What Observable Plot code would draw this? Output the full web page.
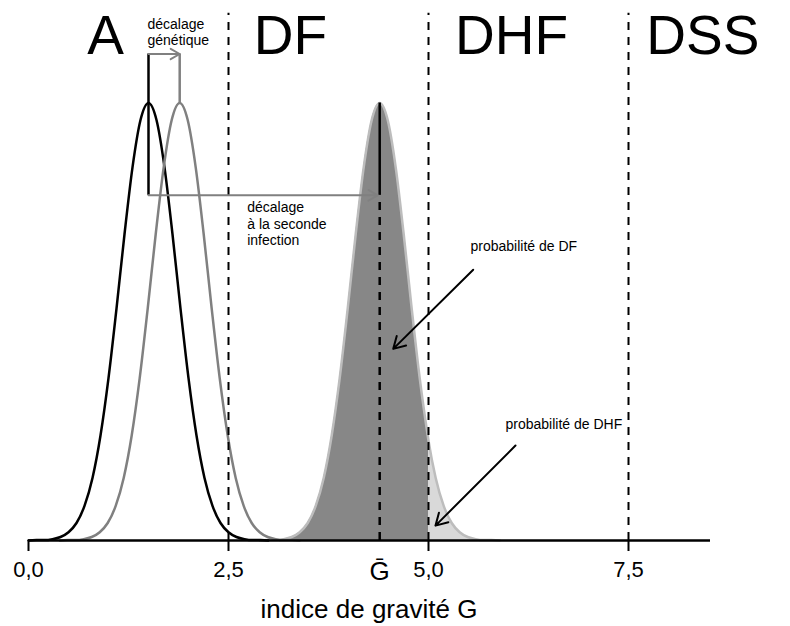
<!DOCTYPE html>
<html>
<head>
<meta charset="utf-8">
<script src="https://cdn.jsdelivr.net/npm/d3@7"></script>
<script src="https://cdn.jsdelivr.net/npm/@observablehq/plot@0.6"></script>
<style>
  body { margin: 0; background: #fff; }
</style>
</head>
<body>
<div id="chart"></div>
<script>
// ---- data (y normalised: peak = 1) ----
const xPrimaire = [0.0,0.1,0.2,0.3,0.4,0.5,0.6,0.7,0.8,0.9,1.0,1.1,1.2,1.3,1.4,1.5,1.6,1.7,1.8,1.9,2.0,2.1,2.2,2.3,2.4,2.5,2.6,2.7,2.8,2.9,3.0];
const yPrimaire = [0,0.001,0.001,0.003,0.008,0.019,0.04,0.079,0.143,0.24,0.371,0.53,0.70,0.853,0.961,1.0,0.961,0.853,0.70,0.53,0.371,0.24,0.143,0.079,0.04,0.019,0.008,0.003,0.001,0.001,0];

const xGenetique = [0.39,0.49,0.59,0.69,0.79,0.89,0.99,1.09,1.19,1.29,1.39,1.49,1.59,1.69,1.79,1.89,1.99,2.09,2.19,2.29,2.39,2.49,2.59,2.69,2.79,2.89,2.99,3.09,3.19,3.29,3.39];
const yGenetique = [0,0.001,0.001,0.003,0.008,0.019,0.04,0.079,0.143,0.24,0.371,0.53,0.70,0.853,0.961,1.0,0.961,0.853,0.70,0.53,0.371,0.24,0.143,0.079,0.04,0.019,0.008,0.003,0.001,0.001,0];

const xSeconde = [2.89,2.99,3.09,3.19,3.29,3.39,3.49,3.59,3.69,3.79,3.89,3.99,4.09,4.19,4.29,4.39,4.49,4.59,4.69,4.79,4.89,4.99,5.0,5.09,5.19,5.29,5.39,5.49,5.59,5.69,5.79,5.89];
const ySeconde = [0,0.001,0.001,0.003,0.008,0.019,0.04,0.079,0.143,0.24,0.371,0.53,0.70,0.853,0.961,1.0,0.961,0.853,0.70,0.53,0.371,0.24,0.228,0.143,0.079,0.04,0.019,0.008,0.003,0.001,0.001,0];

const seuils = [2.5, 5.0, 7.5];
const classes = ["A", "DF", "DHF", "DSS"];
const tickValues = [0, 2.5, 5.0, 7.5];
const moyPrimaire = 1.5;
const moyGenetique = 1.89;
const Gbar = 4.39;

// ---- tables for the library ----
const primaire = xPrimaire.map((x, i) => ({x, y: yPrimaire[i]}));
const genetique = xGenetique.map((x, i) => ({x, y: yGenetique[i]}));
const seconde = xSeconde.map((x, i) => ({x, y: ySeconde[i]}));

// annotation placement (data coordinates)
const classLabelX = [0.9625, 3.275, 6.0375, 8.43];
const yLabels = 1.113;
const yBracket = 1.112;
const yShift = 0.789;

const font = '"Liberation Sans", Arial, Helvetica, sans-serif';
const fmt = d => d.toFixed(1).replace(".", ",");

const plot = Plot.plot({
  width: 790,
  height: 626,
  marginLeft: 28,
  marginRight: 80,
  marginTop: 15,
  marginBottom: 86,
  style: {fontFamily: font, background: "white", color: "black"},
  x: {domain: [0, 8.525], label: null},
  y: {domain: [0, 1.2], axis: null},
  marks: [
    // second infection distribution
    Plot.areaY(seconde, {x: "x", y: "y", fill: "#d9d9d9", curve: "monotone-x"}),
    Plot.areaY(seconde, {filter: d => d.x <= 5.0, x: "x", y: "y", fill: "#878787", curve: "monotone-x"}),
    Plot.lineY(seconde, {x: "x", y: "y", stroke: "#bdbdbd", strokeWidth: 2.5, curve: "monotone-x"}),
    // primary & genetic shift distributions
    Plot.lineY(primaire, {x: "x", y: "y", stroke: "black", strokeWidth: 2.5, curve: "monotone-x"}),
    Plot.lineY(genetique, {x: "x", y: "y", stroke: "#808080", strokeWidth: 2.5, curve: "monotone-x"}),
    // thresholds
    Plot.ruleX(seuils, {y1: 0, y2: 1.205, stroke: "black", strokeWidth: 2, strokeDasharray: "8,7"}),
    // mean of second infection
    Plot.ruleX([Gbar], {y1: 0, y2: yShift, stroke: "black", strokeWidth: 2.5, strokeDasharray: "8,7"}),
    Plot.ruleX([Gbar], {y1: yShift, y2: 1.0, stroke: "black", strokeWidth: 2.5}),
    // bracket lines
    Plot.ruleX([moyPrimaire], {y1: yShift, y2: yBracket, stroke: "black", strokeWidth: 2.5}),
    Plot.ruleX([moyGenetique], {y1: 1.0, y2: yBracket, stroke: "#808080", strokeWidth: 2.5}),
    Plot.arrow([{x1: moyPrimaire, x2: moyGenetique, y: yBracket}],
      {x1: "x1", x2: "x2", y1: "y", y2: "y", stroke: "#808080", strokeWidth: 2, headLength: 8}),
    Plot.arrow([{x1: moyPrimaire, x2: Gbar, y: yShift}],
      {x1: "x1", x2: "x2", y1: "y", y2: "y", stroke: "#808080", strokeWidth: 2, headLength: 8, insetEnd: 2}),
    // probability arrows
    Plot.arrow([{x1: 5.559, y1: 0.619, x2: 4.559, y2: 0.438}, {x1: 6.0875, y1: 0.217, x2: 5.0875, y2: 0.034}],
      {x1: "x1", y1: "y1", x2: "x2", y2: "y2", stroke: "black", strokeWidth: 2, headLength: 10}),
    // baseline axis with ticks
    Plot.ruleY([0], {stroke: "black", strokeWidth: 2.5}),
    Plot.axisX({ticks: tickValues, tickSize: 11, strokeWidth: 2, tickFormat: () => "", label: null}),
    Plot.text(tickValues, {x: d => d, y: -0.0823, text: fmt, fontSize: 22,
      lineAnchor: "bottom", textAnchor: "middle", fill: "black"}),
    // class labels
    Plot.text(classes, {x: (d, i) => classLabelX[i], y: yLabels, text: d => d,
      fontSize: 55, lineAnchor: "bottom", textAnchor: "middle", fill: "black"}),
    // small annotations
    Plot.text(["décalage\ngénétique"], {x: 1.4875, y: 1.1337, text: d => d, fontSize: 14,
      lineHeight: 1.143, lineAnchor: "bottom", textAnchor: "start", fill: "black"}),
    Plot.text(["décalage\nà la seconde\ninfection"], {x: 2.734, y: 0.6743, text: d => d, fontSize: 14,
      lineHeight: 1.18, lineAnchor: "bottom", textAnchor: "start", fill: "black"}),
    Plot.text(["probabilité de DF"], {x: 5.525, y: 0.6606, text: d => d, fontSize: 14,
      lineAnchor: "bottom", textAnchor: "start", fill: "black"}),
    Plot.text(["probabilité de DHF"], {x: 5.9625, y: 0.256, text: d => d, fontSize: 14,
      lineAnchor: "bottom", textAnchor: "start", fill: "black"}),
    // G bar & axis label
    Plot.text([Gbar], {x: d => d, y: -0.0914, text: () => "Ḡ", fontSize: 26,
      lineAnchor: "bottom", textAnchor: "middle", fill: "black"}),
    Plot.text(["indice de gravité G"], {x: 4.256, y: -0.176, text: d => d, fontSize: 26,
      lineAnchor: "bottom", textAnchor: "middle", fill: "black"})
  ]
});

document.getElementById("chart").appendChild(plot);
</script>
</body>
</html>
